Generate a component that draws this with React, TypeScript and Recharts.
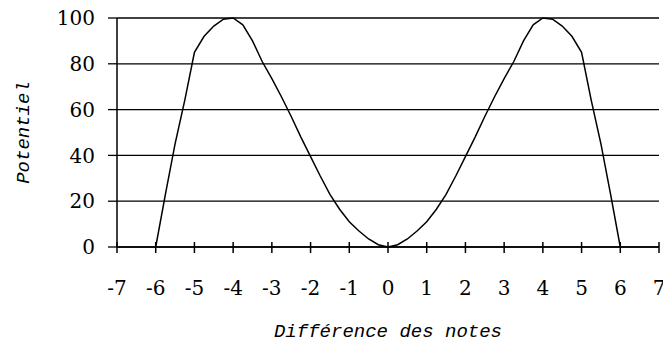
import { LineChart, Line, XAxis, YAxis, CartesianGrid } from "recharts";

// note difference (x) and potential (y)
const diffs = [
  -6, -5.75, -5.5, -5.25, -5, -4.75, -4.5, -4.25, -4, -3.75, -3.5, -3.25, -3, -2.75, -2.5, -2.25, -2, -1.75, -1.5, -1.25, -1,
  -0.75, -0.5, -0.25, 0, 0.25, 0.5, 0.75, 1, 1.25, 1.5, 1.75, 2, 2.25, 2.5, 2.75, 3, 3.25, 3.5, 3.75, 4, 4.25, 4.5, 4.75, 5,
  5.25, 5.5, 5.75, 6,
];
const potentiel = [
  0, 23, 45, 64, 85, 92, 96.5, 99.5, 100, 97, 90, 81, 73.5, 65.5, 57, 48, 39.5, 31, 23, 16.5, 11,
  7, 3.5, 1, 0, 1, 3.5, 7, 11, 16.5, 23, 31, 39.5, 48, 57, 65.5, 73.5, 81, 90, 97, 100, 99.5, 96.5, 92, 85,
  64, 45, 23, 0,
];
const xTicks = [-7, -6, -5, -4, -3, -2, -1, 0, 1, 2, 3, 4, 5, 6, 7];
const yTicks = [0, 20, 40, 60, 80, 100];

const rows = diffs.map((d, i) => ({ d, v: potentiel[i] }));

const tickFont = { fontFamily: "'DejaVu Serif', serif", fontSize: 20, fill: "#000" };
const titleFont = { fontFamily: "'Liberation Mono', monospace", fontSize: 19, fontStyle: "italic" as const, fill: "#000" };

function XTick({ x, y, payload }: any) {
  return (
    <g>
      <line x1={x} x2={x} y1={y - 5} y2={y + 6} stroke="#000" strokeWidth={1.5} />
      <text x={x} y={y + 48} textAnchor="middle" style={tickFont}>
        {payload.value}
      </text>
    </g>
  );
}

export default function App() {
  return (
    <div style={{ position: "absolute", left: 0, top: 0, width: 663, height: 350, background: "#fff" }}>
      <LineChart width={663} height={350} data={rows} margin={{ top: 18, right: 4, bottom: 0, left: 0 }}>
        <CartesianGrid vertical={false} stroke="#000" strokeWidth={1.3} strokeOpacity={1} />
        <XAxis
          dataKey="d"
          type="number"
          domain={[-7, 7]}
          ticks={xTicks}
          interval={0}
          height={103}
          tickSize={0}
          tickMargin={0}
          tickLine={false}
          axisLine={{ stroke: "#000", strokeWidth: 1.5 }}
          tick={<XTick />}
          label={{
            content: ({ viewBox }: any) => (
              <text
                x={viewBox.x + viewBox.width / 2}
                y={viewBox.y + 90}
                textAnchor="middle"
                style={titleFont}
              >
                Différence des notes
              </text>
            ),
          }}
        />
        <YAxis
          domain={[0, 100]}
          ticks={yTicks}
          interval={0}
          width={117}
          tickSize={9}
          tickMargin={13}
          axisLine={{ stroke: "#000", strokeWidth: 1.5 }}
          tickLine={{ stroke: "#000", strokeWidth: 1.3 }}
          tick={tickFont}
          label={{
            content: ({ viewBox }: any) => {
              const cx = viewBox.x + 24;
              const cy = viewBox.y + viewBox.height / 2;
              return (
                <text
                  x={cx}
                  y={cy}
                  textAnchor="middle"
                  dominantBaseline="central"
                  transform={`rotate(-90 ${cx} ${cy})`}
                  style={titleFont}
                >
                  Potentiel
                </text>
              );
            },
          }}
        />
        <Line
          type="linear"
          dataKey="v"
          stroke="#000"
          strokeWidth={1.5}
          dot={false}
          isAnimationActive={false}
        />
      </LineChart>
    </div>
  );
}
